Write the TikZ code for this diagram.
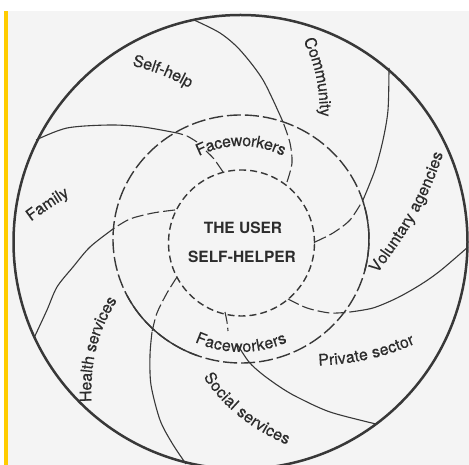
\documentclass[tikz,border=0pt]{standalone}
\usepackage{fontspec}
\setmainfont{TeX Gyre Heros}
\newfontfamily\lblfam{TeX Gyre Heros}[FakeBold=0.35]
\usetikzlibrary{decorations.text,shapes.geometric}
\definecolor{ink}{HTML}{383838}
\definecolor{lettering}{HTML}{2C2C2C}
\definecolor{paper}{HTML}{F4F4F4}
\definecolor{tab}{HTML}{FFCC00}
\newcommand\lblfont{\lblfam\fontsize{16}{16}\selectfont}
\newcommand\hubfont{\fontsize{15.5}{16}\selectfont\bfseries}
\tikzset{
  rim/.style={draw=ink, line width=2.5pt, circle, inner sep=0pt, minimum size=454pt},
  ring/.style={draw=ink, line width=1.4pt, ellipse, inner sep=0pt,
    minimum width=256pt, minimum height=248pt, dash pattern=on 14pt off 4pt},
  ringsolid/.style={draw=ink, line width=1.4pt},
  core/.style={draw=ink, line width=1.4pt, circle, inner sep=0pt,
    minimum size=146pt, dash pattern=on 7pt off 4pt},
  armdash/.style={draw=ink, line width=1.1pt, dash pattern=on 12pt off 4pt},
  armline/.style={draw=ink, line width=1.1pt},
  hub/.style={text=lettering, font=\hubfont, inner sep=0pt},
  lbl/.style={decorate, decoration={text along path, text align=center,
    raise=-5pt, text color=lettering}}
}
\begin{document}
\begin{tikzpicture}[x=1pt,y=1pt]
\useasboundingbox (0,0) rectangle (469,465);
\clip (0,0) rectangle (469,465);
% page and margin tab
\fill[white] (0,0) rectangle (469,465);
\fill[paper] (8,0) rectangle (469,454);
\fill[tab] (4,0) rectangle (8,454);

% rings
\node[core] (core) at (241.5,222) {};
\node[ring] (ring) at (241,226) {};
\draw[ringsolid] (126.95,169.7) arc[start angle=207,end angle=250,x radius=128pt,y radius=124pt];
\draw[ringsolid] (364.6,193.9) arc[start angle=-15,end angle=17,x radius=128pt,y radius=124pt];

% spiral arms: dashed inside the faceworker ring, solid outside
\draw[armdash] plot[smooth] coordinates {(223,293) (214,306) (206,314)};
\draw[armdash] plot[smooth] coordinates {(197,323) (187,329) (177,332)};
\draw[armline] plot[smooth] coordinates {(177,332) (143,338) (110,340) (67,337) (36,325)};

\draw[armdash] plot[smooth] coordinates {(287,283) (292,302) (290,322) (283,343)};
\draw[armline] plot[smooth] coordinates {(283,343) (263,385) (240,415) (220,432) (194,445)};

\draw[armdash] plot[smooth] coordinates {(315,223) (333,232) (350,245) (363,265)};
\draw[armline] plot[smooth] coordinates {(363,265) (375,295) (383,325) (388,355) (389,397)};

\draw[armdash] plot[smooth] coordinates {(288,166) (307,157) (330,152) (350,153)};
\draw[armline] plot[smooth] coordinates {(350,153) (373,157) (397,167) (420,180) (440,194) (468,218)};

\draw[armdash] plot[smooth] coordinates {(225,153) (227,143) (228,134)};
\draw[armline] plot[smooth] coordinates {(237,121) (249,103) (262,91) (280,78) (297,68) (330,53) (376,41)};

\draw[armdash] plot[smooth] coordinates {(177,188) (167,172) (157,152) (152,133)};
\draw[armline] plot[smooth] coordinates {(152,133) (150,110) (151,80) (160,45) (172,22) (186,1)};

\draw[armdash] plot[smooth] coordinates {(175,255) (153,252) (130,246) (113,236)};
\draw[armline] plot[smooth] coordinates {(113,236) (90,218) (73,198) (57,178) (47,155) (34,127)};

% outer boundary
\node[rim] (rim) at (240.5,223) {};

% centre
\node[hub] (user) at (243,237) {THE USER};
\node[hub] (helper) at (242,208) {SELF-HELPER};

% sector labels along the arms
\path[lbl, decoration={text={|\lblfont|Self-help}}]
  (118,407) .. controls (145,403) and (175,393) .. (205,373);
\path[lbl, decoration={text={|\lblfont|Community}}]
  (301,438) .. controls (319,410) and (326,380) .. (325,335);
\path[lbl, decoration={text={|\lblfont|Voluntary agencies}}]
  (363,181) .. controls (396,224) and (426,264) .. (443,329);
\path[lbl, decoration={text={|\lblfont|Private sector}}]
  (305,104) .. controls (340,104) and (385,110) .. (425,132);
\path[lbl, decoration={text={|\lblfont|Social services}}]
  (201,102) .. controls (218,70) and (248,40) .. (301,20);
\path[lbl, decoration={text={|\lblfont|Health services}}]
  (87,50) .. controls (84,100) and (90,135) .. (120,178);
\path[lbl, decoration={text={|\lblfont|Family}}]
  (18,240) .. controls (35,253) and (55,267) .. (78,280);
\path[lbl, decoration={text={|\lblfont|Faceworkers}}]
  (184.8,306.3) arc[start angle=125,end angle=55,radius=98pt];
\path[lbl, decoration={text={|\lblfont|Faceworkers}}]
  (171.6,143.3) arc[start angle=230,end angle=310,radius=108pt];
\end{tikzpicture}
\end{document}
